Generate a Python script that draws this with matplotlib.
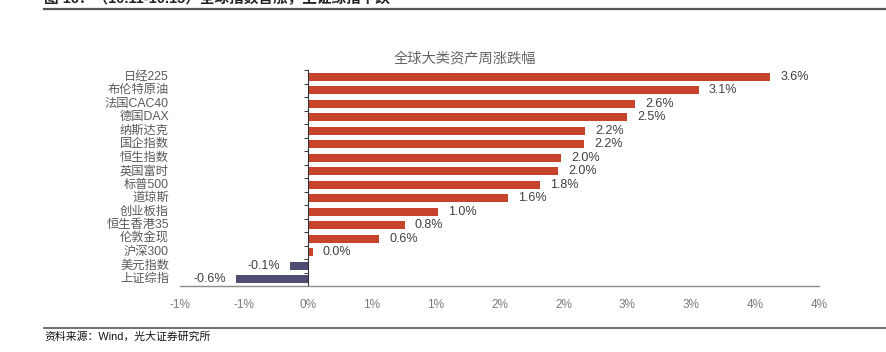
import matplotlib
matplotlib.use("Agg")
import matplotlib.pyplot as plt
from matplotlib.lines import Line2D
from matplotlib.transforms import offset_copy
import numpy as np

plt.rcParams['font.family'] = ['Liberation Sans', 'Noto Sans CJK SC', 'DejaVu Sans']

categories = ["日经225", "布伦特原油", "法国CAC40", "德国DAX", "纳斯达克", "国企指数",
              "恒生指数", "英国富时", "标普500", "道琼斯", "创业板指", "恒生香港35",
              "伦敦金现", "沪深300", "美元指数", "上证综指"]
values = [3.62, 3.06, 2.56, 2.50, 2.17, 2.16, 1.98, 1.96, 1.82, 1.57, 1.02, 0.76,
          0.56, 0.04, -0.14, -0.56]
xticks = [-1.0, -0.5, 0.0, 0.5, 1.0, 1.5, 2.0, 2.5, 3.0, 3.5, 4.0]
xtick_labels = ["-1%", "-1%", "0%", "1%", "1%", "2%", "2%", "3%", "3%", "4%", "4%"]
title = "全球大类资产周涨跌幅"
heading = "图 16：（10.11-10.15）全球指数普涨，上证综指下跌"
source = "资料来源：Wind，光大证券研究所"

RED = "#C8432B"
BLUE = "#4E4D73"

W, H = 887, 352
fig = plt.figure(figsize=(W / 100, H / 100), dpi=100)
ax = fig.add_axes([180 / W, 1 - 286 / H, (819 - 180) / W, (286 - 70) / H])

y = np.arange(len(categories))
colors = [RED if v >= 0 else BLUE for v in values]
ax.barh(y, values, height=0.62, color=colors, zorder=2)

ax.set_xlim(-1.0, 4.0)
ax.set_ylim(len(categories) - 0.5, -0.5)

for s in ["top", "right"]:
    ax.spines[s].set_visible(False)
ax.spines["left"].set_position(("data", 0))
ax.spines["left"].set_color("#333333")
ax.spines["left"].set_linewidth(0.8)
ax.spines["bottom"].set_color("#8a8a8a")
ax.spines["bottom"].set_linewidth(1.0)

ax.set_yticks(np.arange(-0.5, len(categories), 1.0))
ax.set_yticklabels([])
ax.tick_params(axis="y", length=3, width=0.7, color="#333333", direction="out")

ax.set_xticks(xticks)
ax.set_xticklabels(xtick_labels)
ax.tick_params(axis="x", length=0, pad=9, labelsize=8.5, labelcolor="#7a7a7a")

# category labels at left of axes
trans = offset_copy(ax.get_yaxis_transform(), fig=fig, x=-11, y=0, units="dots")
for yi, c in zip(y, categories):
    ax.text(0, yi, c, transform=trans, ha="right", va="center",
            fontsize=8.8, color="#5a5a5a")

# value labels
for yi, v in zip(y, values):
    if v >= 0:
        tr = offset_copy(ax.transData, fig=fig, x=10, y=0, units="dots")
        ax.text(v, yi, f"{v:.1f}%", transform=tr, ha="left", va="center",
                fontsize=9, color="#404040")
    else:
        tr = offset_copy(ax.transData, fig=fig, x=-10, y=0, units="dots")
        ax.text(v, yi, f"{v:.1f}%", transform=tr, ha="right", va="center",
                fontsize=9, color="#404040")

fig.text(465 / W, 1 - 59 / H, title, ha="center", va="center",
         fontsize=10.3, color="#666666")

fig.text(44 / W, 1 - 3 / H, heading, ha="left", va="baseline",
         fontsize=10.5, fontweight="bold", color="#222222")
fig.add_artist(Line2D([44 / W, 1.0], [1 - 9 / H, 1 - 9 / H], color="#555555",
                      lw=1.6, transform=fig.transFigure))
fig.add_artist(Line2D([44 / W, 1.0], [1 - 328 / H, 1 - 328 / H], color="#666666",
                      lw=1.3, transform=fig.transFigure))
fig.text(44 / W, 1 - 337 / H, source, ha="left", va="center",
         fontsize=7.8, color="#111111")

fig.savefig("out.png", dpi=100)
